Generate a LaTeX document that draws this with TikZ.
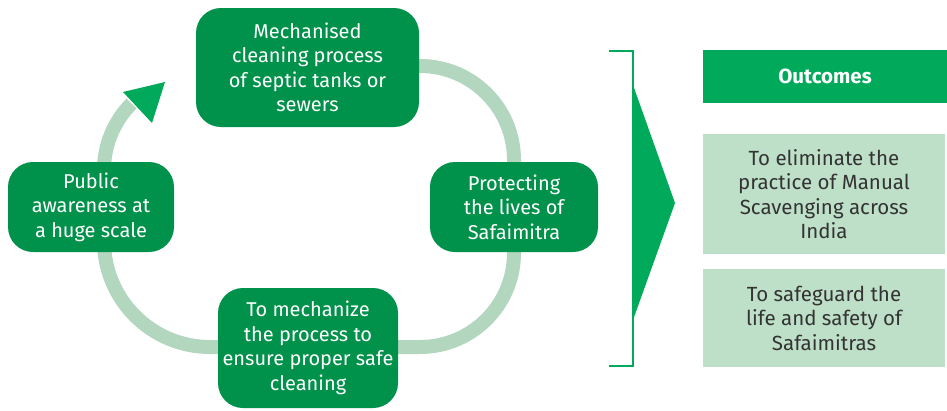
\documentclass[tikz,border=0pt]{standalone}
\usepackage{fontspec}
\setmainfont{Fira Sans}
\definecolor{darkg}{RGB}{0,145,75}
\definecolor{brightg}{RGB}{0,170,90}
\definecolor{ringg}{RGB}{178,214,190}
\definecolor{paleg}{RGB}{190,224,200}
\definecolor{txt}{RGB}{51,51,51}
\tikzset{
  cyclebox/.style={fill=darkg, rounded corners=25pt, text=white, align=center,
    inner sep=0pt, font=\fontsize{20}{24.5}\selectfont},
  outbox/.style={fill=paleg, text=txt, align=center, inner sep=0pt,
    minimum width=242pt, font=\fontsize{20.5}{24.5}\selectfont},
}
\begin{document}
\begin{tikzpicture}[x=1pt,y=-1pt]
\useasboundingbox (0,0) rectangle (947,410);
% ring
\draw[ringg, line width=14pt]
  (300,66) -- (420,66) arc[start angle=-90,end angle=0,radius=94]
  -- (514,253) arc[start angle=0,end angle=90,radius=94]
  -- (210,347) arc[start angle=90,end angle=180,radius=106]
  -- (104,170) arc[start angle=180,end angle=225,radius=94];
\fill[brightg] (123,92) -- (165,82) -- (152,123) -- cycle;
% cycle boxes
\node[cyclebox, minimum width=223pt, minimum height=119pt] (top) at (307.5,67.5)
  {Mechanised\\cleaning process\\of septic tanks or\\sewers};
\node[cyclebox, minimum width=166pt, minimum height=90pt] (left) at (91,207)
  {Public\\awareness at\\a huge scale};
\node[cyclebox, minimum width=168pt, minimum height=90pt] (right) at (514,207)
  {Protecting\\the lives of\\Safaimitra};
\node[cyclebox, minimum width=180pt, minimum height=120pt] (bottom) at (308,348)
  {To mechanize\\the process to\\ensure proper safe\\cleaning};
% bracket
\draw[brightg, line width=2pt] (609,51) -- (633,51) -- (633,366) -- (609,366);
\fill[brightg] (633,85) -- (675,203) -- (633,320) -- cycle;
% outcomes
\node[fill=brightg, text=white, minimum width=244pt, minimum height=53pt, inner sep=0pt,
  font=\fontsize{20.5}{24.5}\selectfont\bfseries] (head) at (825,76.5) {Outcomes};
\node[outbox, minimum height=120pt] (out1) at (824,194)
  {To eliminate the\\practice of Manual\\Scavenging across\\India};
\node[outbox, minimum height=98pt] (out2) at (824,318)
  {To safeguard the\\life and safety of\\Safaimitras};
\end{tikzpicture}
\end{document}
